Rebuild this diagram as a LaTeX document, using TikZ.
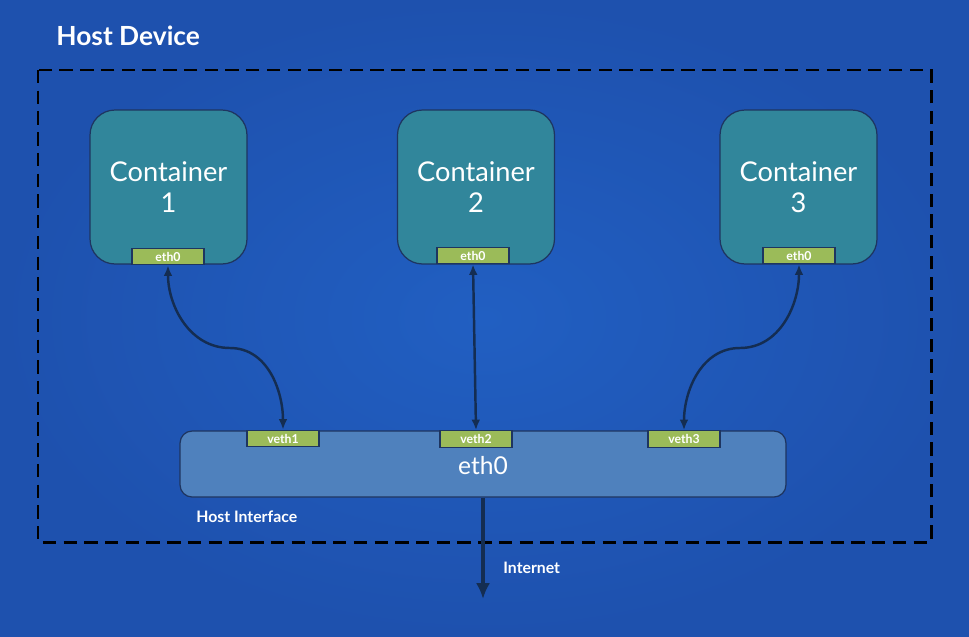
\documentclass[tikz,border=0pt]{standalone}
\usepackage{fontspec}
\setmainfont{Lato}
\usetikzlibrary{arrows.meta,positioning}
\definecolor{bginner}{HTML}{215FC2}
\definecolor{bgouter}{HTML}{1E51AE}
\definecolor{boxteal}{HTML}{31869B}
\definecolor{ifcblue}{HTML}{4F81BD}
\definecolor{portgreen}{HTML}{9BBB59}
\definecolor{edgedark}{HTML}{1E3560}
\definecolor{wirenavy}{HTML}{142D52}

\tikzset{
  container/.style={draw=edgedark, line width=0.7pt, fill=boxteal, rounded corners=0.5cm,
    minimum width=3.14cm, minimum height=3.08cm, text=white, align=center,
    font=\fontsize{15.5}{18}\selectfont},
  port/.style={draw=edgedark, line width=0.7pt, fill=portgreen, inner sep=0pt,
    minimum width=1.44cm, minimum height=0.33cm, text=white, font=\fontsize{7}{8}\selectfont\bfseries},
  wire/.style={wirenavy, line width=1.4pt, {Latex[length=6pt,width=5pt]}-{Latex[length=6pt,width=5pt]}},
  label/.style={text=white, inner sep=0pt}
}

\begin{document}
\begin{tikzpicture}[x=0.02cm, y=-0.02cm]
%%%%% BACKGROUND %%%%%
\shade[inner color=bginner, outer color=bgouter] (0,0) rectangle (969,636);
\useasboundingbox (0,0) rectangle (969,636);

%%%%% HOST DEVICE %%%%%
\node[label, anchor=base west, font=\fontsize{15}{18}\selectfont\bfseries] (hosttitle) at (56,45) {Host Device};
\draw[black, line width=1.7pt, dash pattern=on 7.6pt off 4.2pt] (38,70) rectangle (931,542);

%%%%% CONTAINERS %%%%%
\node[container] (cont1) at (168.5,187) {Container\\1};
\node[container] (cont2) at (476,187) {Container\\2};
\node[container] (cont3) at (798.5,187) {Container\\3};

\node[port] (eth1) at (168,256.5) {eth0};
\node[port] (eth2) at (473,255.5) {eth0};
\node[port] (eth3) at (799,255.5) {eth0};

%%%%% HOST INTERFACE %%%%%
\node[draw=edgedark, line width=0.7pt, fill=ifcblue, rounded corners=0.24cm,
  minimum width=12.12cm, minimum height=1.32cm] (ifc) at (483,464) {};
\node[label, font=\fontsize{14}{16}\selectfont] (ifcname) at (483,466) {eth0};
\node[label, anchor=base west, font=\fontsize{9}{11}\selectfont\bfseries] (ifclabel) at (196,522) {Host Interface};

\node[port] (veth1) at (283,438.5) {veth1};
\node[port] (veth2) at (476,439) {veth2};
\node[port] (veth3) at (684,439) {veth3};

%%%%% LINKS %%%%%
\coordinate (bend1) at (230,348);
\coordinate (bend3) at (740,348);
\draw[wire] (eth1.south) to[out=-90, in=180] (bend1) to[out=0, in=90] (veth1.north);
\draw[wire] (eth2.south) -- (veth2.north);
\draw[wire] (eth3.south) to[out=-90, in=0] (bend3) to[out=180, in=90] (veth3.north);

%%%%% INTERNET %%%%%
\coordinate (inet) at (483,599);
\draw[wirenavy, line width=2.8pt, -{Latex[length=9pt,width=8pt]}] (ifc.south) -- (inet);
\node[label, anchor=base west, font=\fontsize{9}{11}\selectfont\bfseries] (inetlabel) at (503,573) {Internet};
\end{tikzpicture}
\end{document}
